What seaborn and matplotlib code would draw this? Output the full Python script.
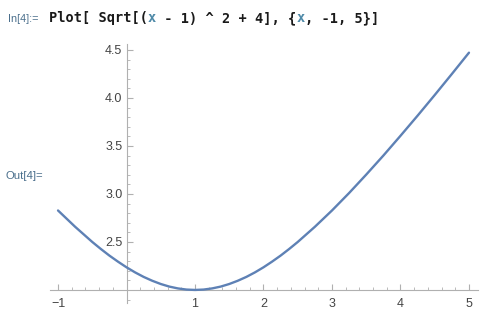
import matplotlib
matplotlib.use("Agg")
import matplotlib.pyplot as plt
import seaborn as sns
import pandas as pd
from matplotlib.ticker import MultipleLocator, FixedLocator

# values
x_vals = [-1.0, -0.75, -0.5, -0.375, -0.25, -0.125, 0.0, 0.125, 0.25, 0.375, 0.5, 0.625, 0.75,
          0.875, 1.0, 1.125, 1.25, 1.375, 1.5, 1.625, 1.75, 1.875, 2.0, 2.125, 2.25, 2.375,
          2.5, 2.75, 3.0, 3.25, 3.5, 3.75, 4.0, 4.25, 4.5, 4.75, 5.0]
y_vals = [2.828, 2.658, 2.5, 2.427, 2.358, 2.295, 2.236, 2.183, 2.136, 2.096, 2.062, 2.035, 2.016,
          2.004, 2.0, 2.004, 2.016, 2.035, 2.062, 2.096, 2.136, 2.183, 2.236, 2.295, 2.358, 2.427,
          2.5, 2.658, 2.828, 3.010, 3.202, 3.400, 3.606, 3.816, 4.031, 4.250, 4.472]
x_ticks = [-1, 1, 2, 3, 4, 5]
x_tick_labels = ["\u22121", "1", "2", "3", "4", "5"]
y_ticks = [2.5, 3.0, 3.5, 4.0, 4.5]
y_tick_labels = ["2.5", "3.0", "3.5", "4.0", "4.5"]

sns.set_style("ticks")
plt.rcParams['font.family'] = ['Liberation Sans', 'DejaVu Sans']

df = pd.DataFrame({"x": x_vals, "y": y_vals})

fig = plt.figure(figsize=(4.98, 3.13), dpi=100)
ax = fig.add_axes([0.1, 0.0307, 0.8596, 0.828])
sns.lineplot(data=df, x="x", y="y", ax=ax, color="#5E81B5", linewidth=1.7, zorder=5, clip_on=False)

ax.set_xlim(-1.12, 5.13)
ax.set_ylim(1.86, 4.56)
ax.set_xlabel("")
ax.set_ylabel("")

axis_col = "#b0b0b0"
for s in ["top", "right"]:
    ax.spines[s].set_visible(False)
ax.spines["left"].set_position(("data", 0))
ax.spines["bottom"].set_position(("data", 2))
for s in ["left", "bottom"]:
    ax.spines[s].set_color(axis_col)
    ax.spines[s].set_linewidth(0.8)

ax.xaxis.set_major_locator(FixedLocator(x_ticks))
ax.set_xticklabels(x_tick_labels)
ax.yaxis.set_major_locator(FixedLocator(y_ticks))
ax.set_yticklabels(y_tick_labels)
ax.xaxis.set_minor_locator(MultipleLocator(0.2))
ax.yaxis.set_minor_locator(MultipleLocator(0.1))

ax.tick_params(axis="both", which="major", direction="in", length=4, width=0.8,
               color=axis_col, labelcolor="#444444", labelsize=9)
ax.tick_params(axis="both", which="minor", direction="in", length=2.2, width=0.6, color=axis_col)
ax.tick_params(axis="x", which="major", pad=5.5)
ax.tick_params(axis="y", which="major", pad=3)

# notebook labels
lab_col = "#4a6f8c"
fig.text(8 / 498, 1 - 19 / 313, "In[4]:=", color=lab_col, fontsize=7.8, va="center", ha="left")
fig.text(5 / 498, 1 - 176 / 313, "Out[4]=", color=lab_col, fontsize=8.2, va="center", ha="left")

pieces = [("Plot[ Sqrt[(", "#1a1a1a"), ("x", "#4f8aa8"), (" - 1) ^ 2 + 4], {", "#1a1a1a"),
          ("x", "#4f8aa8"), (", -1, 5}]", "#1a1a1a")]
renderer = fig.canvas.get_renderer()
xpos = 49
for txt, col in pieces:
    t = fig.text(xpos / 498, 1 - 18 / 313, txt, color=col, fontsize=9.8,
                 family="DejaVu Sans Mono", weight="bold", va="center", ha="left")
    bb = t.get_window_extent(renderer=renderer)
    xpos = bb.x1

fig.savefig("out.png", dpi=100)
